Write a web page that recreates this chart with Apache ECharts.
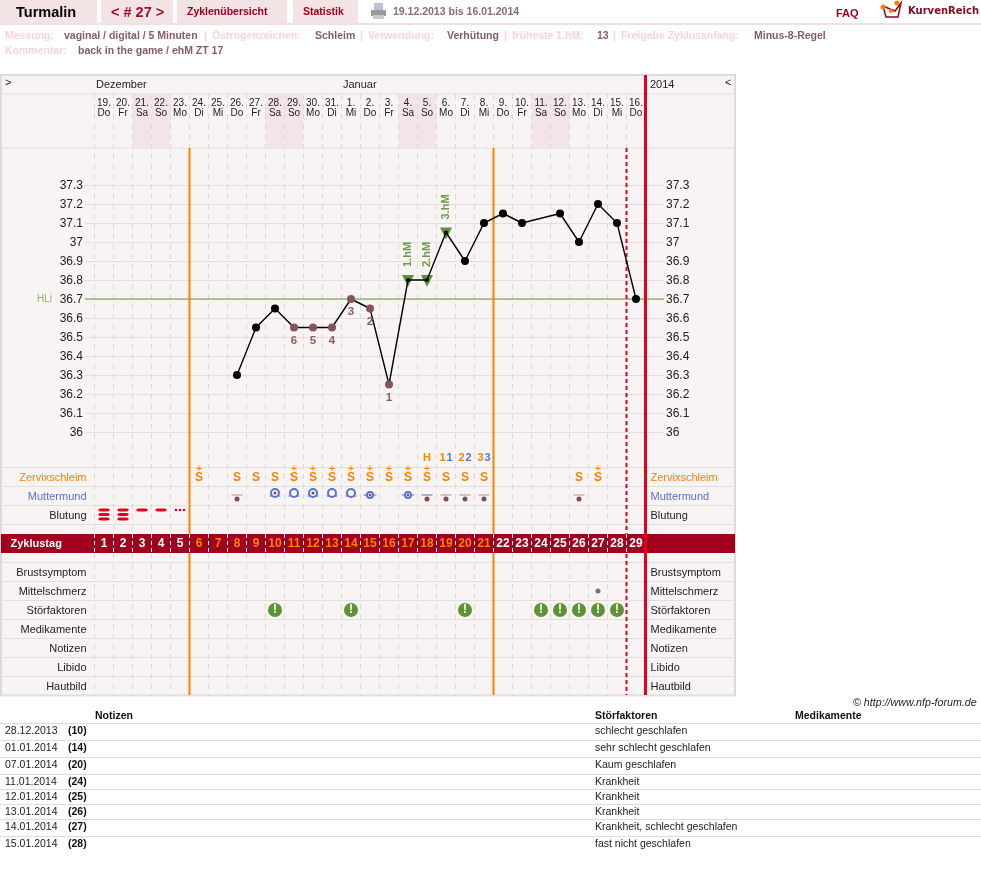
<!DOCTYPE html>
<html><head><meta charset="utf-8"><style>html,body{margin:0;padding:0;background:#fff}#c{width:981px;height:895px}</style>
<script src="https://cdn.jsdelivr.net/npm/echarts@6/dist/echarts.min.js"></script></head>
<body><div id="c"></div><script>
const cycleDays = Array.from('x'.repeat(29)).map((_, i) => String(i + 1));
const dayDates = ['19.','20.','21.','22.','23.','24.','25.','26.','27.','28.','29.','30.','31.','1.','2.','3.','4.','5.','6.','7.','8.','9.','10.','11.','12.','13.','14.','15.','16.'];
const dayNames = ['Do','Fr','Sa','So','Mo','Di','Mi','Do','Fr','Sa','So','Mo','Di','Mi','Do','Fr','Sa','So','Mo','Di','Mi','Do','Fr','Sa','So','Mo','Di','Mi','Do'];
const temperatures = [null,null,null,null,null,null,null,36.3,36.55,36.65,36.55,36.55,36.55,36.7,36.65,36.25,36.8,36.8,37.05,36.9,37.1,37.15,37.1,null,37.15,37,37.2,37.1,36.7];
const lowCount = {11:'6',12:'5',13:'4',14:'3',15:'2',16:'1'};
const riseDays = {17:'1.hM',18:'2.hM',19:'3.hM'};
const coverLine = 36.7;
const rowNames = [' ','Zervixschleim','Muttermund','Blutung','  ','   ','Brustsymptom','Mittelschmerz','Störfaktoren','Medikamente','Notizen','Libido','Hautbild'];
const peakMarks = {18:['H',''],19:['1','1'],20:['2','2'],21:['3','3']};
const mucusS = [8,9,10,19,20,21,26];
const mucusSPlus = [6,11,12,13,14,15,16,17,18,27];
const cervixLowGray = [8,19,20,21,26];
const cervixLowBlue = [18];
const cervixRingLarge = [10,11,12,13,14];
const cervixRingDot = [10,12];
const cervixRingLine = [10,12,11,13,14];
const cervixRingSmall = [15,17];
const bleedHeavy = [1,2];
const bleedMedium = [3,4];
const bleedLight = [5];
const midPain = [27];
const disturbances = [10,14,20,24,25,26,27,28];
const phaseStart = 5, phaseEnd = 21, todayEdge = 28, lastEdge = 29;
const noteDates = ['28.12.2013','01.01.2014','07.01.2014','11.01.2014','12.01.2014','13.01.2014','14.01.2014','15.01.2014'];
const noteDays = ['(10)','(14)','(20)','(24)','(25)','(26)','(27)','(28)'];
const noteTexts = ['schlecht geschlafen','sehr schlecht geschlafen','Kaum geschlafen','Krankheit','Krankheit','Krankheit','Krankheit, schlecht geschlafen','fast nicht geschlafen'];
const noteRowY = [731,748,765,782,797,812,827,844];
const noteLineY = [723,740,757,774,789,804,819,836];

const FONT = '"Liberation Sans", Arial, sans-serif';
const ORANGE = '#f98200', BLUE = '#5a72cc', BROWN = '#84545e', RED = '#e2001a', DARK = '#a0001e', GREEN = '#5f9135', LINE = '#e2dedc', BG = '#f8f4f4';

const grids = [
  {left:1,top:75,width:734,height:620.5,show:true,backgroundColor:BG,borderColor:'#dedad8',borderWidth:2},
  {left:1,top:94,width:734,height:54,show:true,backgroundColor:'transparent',borderColor:LINE,borderWidth:1},
  {left:94.5,top:94,width:551,height:54},
  {left:94.5,top:94,width:551,height:601.5},
  {left:85,top:185,width:579,height:247},
  {left:94.5,top:185,width:551,height:247},
  {left:1,top:467.5,width:734,height:228},
  {left:94.5,top:448.5,width:551,height:247},
  {left:1,top:534,width:734,height:19,z:2,show:true,backgroundColor:DARK,borderWidth:0},
  {left:94.5,top:534,width:551,height:19},
  {left:94.5,top:75,width:551,height:620.5},
  {left:85,top:186,width:579,height:247},
  {left:94.5,top:449.5,width:551,height:247}
];
const hiddenVal = g => ({type:'value',gridIndex:g,show:false,min:0,max:1});
const hiddenCat = g => ({type:'category',gridIndex:g,show:false,data:cycleDays});
const xAxes = [
  hiddenVal(0), hiddenVal(1),
  {type:'category',gridIndex:2,data:dayDates.map((d,i)=>d+'\n'+dayNames[i]),position:'top',z:4,
    axisLine:{show:false},axisTick:{show:false},
    axisLabel:{interval:0,inside:true,margin:4,color:'#222',fontFamily:FONT,fontSize:10,lineHeight:10}},
  {type:'category',gridIndex:3,data:cycleDays,z:1,axisLine:{show:false},axisTick:{show:false},axisLabel:{show:false},
    splitLine:{show:true,interval:0,showMaxLine:false,lineStyle:{color:'#dcd8d6',type:[5,5],width:1}}},
  hiddenVal(4), hiddenCat(5), hiddenVal(6), hiddenCat(7), hiddenVal(8),
  {type:'category',gridIndex:9,data:cycleDays,z:6,axisLine:{show:false},axisTick:{show:false},
    axisLabel:{interval:0,inside:true,margin:3,fontFamily:FONT,fontSize:12,fontWeight:'bold',
      color:(v,i)=>(i>=phaseStart&&i<phaseEnd)?ORANGE:'#fff'},
    splitLine:{show:true,interval:0,showMaxLine:false,lineStyle:{color:'#fff',type:[4,3],width:1}}},
  {type:'value',gridIndex:10,show:false,min:0,max:29},
  hiddenVal(11), hiddenVal(12)
];
const tempAxis = {type:'value',min:36,max:37.3,interval:0.1,axisLine:{show:false},axisTick:{show:false}};
const tempLabel = {color:'#222',fontFamily:FONT,fontSize:12,formatter:v=>String(+v.toFixed(1))};
const rowLabelCol = (v) => v==='Zervixschleim'?ORANGE:(v==='Muttermund'?BLUE:'#222');
const yAxes = [
  hiddenVal(0), hiddenVal(1), hiddenVal(2), hiddenVal(3),
  Object.assign({},tempAxis,{gridIndex:4,z:1,axisLabel:{show:false},splitLine:{show:true,lineStyle:{color:LINE,width:1}}}),
  Object.assign({},tempAxis,{gridIndex:11,axisLabel:Object.assign({margin:2},tempLabel),splitLine:{show:false}}),
  Object.assign({},tempAxis,{gridIndex:11,position:'right',axisLabel:Object.assign({margin:2},tempLabel),splitLine:{show:false}}),
  {type:'value',gridIndex:5,show:false,min:36,max:37.3},
  {type:'value',gridIndex:6,min:0,max:12,interval:1,inverse:true,z:1,axisLine:{show:false},axisTick:{show:false},axisLabel:{show:false},splitLine:{show:true,lineStyle:{color:LINE,width:1}}},
  {type:'category',gridIndex:7,inverse:true,show:false,data:rowNames},
  {type:'category',gridIndex:12,inverse:true,data:rowNames,axisLine:{show:false},axisTick:{show:false},
    axisLabel:{interval:0,margin:8,fontFamily:FONT,fontSize:11,color:rowLabelCol}},
  {type:'category',gridIndex:12,inverse:true,position:'right',data:rowNames,axisLine:{show:false},axisTick:{show:false},
    axisLabel:{interval:0,margin:5,fontFamily:FONT,fontSize:11,color:rowLabelCol}},
  hiddenVal(8),
  {type:'category',gridIndex:9,data:['Zyklustag'],z:6,axisLine:{show:false},axisTick:{show:false},
    axisLabel:{margin:84,align:'left',color:'#fff',fontFamily:FONT,fontSize:11,fontWeight:'bold'}},
  {type:'value',gridIndex:10,show:false,min:75,max:695.5,inverse:true}
];
const XI = {hdr:2,tw:4,t:5,rw:6,r:7,ov:10};
const YI = {hdr:2,tw:4,t:7,rw:8,r:9,ov:14};

const row = n => rowNames.indexOf(n);
const scat = (days, rowName, extra) => Object.assign({
  type:'scatter',xAxisIndex:XI.r,yAxisIndex:YI.r,z:6,silent:true,
  data:days.map(d=>[d-1,row(rowName)])
}, extra);

function rule(x, ys, color, width, type, z){
  return {type:'line',xAxisIndex:XI.ov,yAxisIndex:YI.ov,silent:true,symbol:'none',z:z||3,
    data:ys.map(y=>[x,y]),lineStyle:{color,width,type:type||'solid'}};
}

const series = [
  {type:'bar',xAxisIndex:XI.hdr,yAxisIndex:YI.hdr,barWidth:'100%',z:0,silent:true,
    data:dayNames.map(n=>(n==='Sa'||n==='So')?1:0),itemStyle:{color:'#f3e5e7'}},
  {type:'line',xAxisIndex:XI.tw,yAxisIndex:YI.tw,silent:true,symbol:'none',z:2,showSymbol:false,
    data:[[0,coverLine],[1,coverLine]],lineStyle:{color:'#6b9a3a',width:1}},
  {type:'scatter',xAxisIndex:XI.tw,yAxisIndex:YI.tw,silent:true,symbolSize:0,z:2,data:[[0,coverLine]],
    label:{show:true,position:'left',distance:33,formatter:'HLi',color:'#8fb46c',fontFamily:FONT,fontSize:10}},
  rule(phaseStart,[148,534],ORANGE,2), rule(phaseStart,[553,695],ORANGE,2),
  rule(phaseEnd,[148,525,534],ORANGE,2),
  rule(phaseEnd,[695,562,553],ORANGE,2),
  rule(todayEdge,[148,695],RED,2,[4,3],4),
  rule(lastEdge,[75,695],RED,3,'solid',4),
  {type:'scatter',xAxisIndex:XI.t,yAxisIndex:YI.t,z:5,silent:true,symbol:'triangle',symbolRotate:180,symbolSize:[12,12],symbolOffset:[0,1],
    data:Object.keys(riseDays).map(d=>({value:[d-1,temperatures[d-1]],name:riseDays[d]})),
    itemStyle:{color:GREEN},
    label:{show:true,position:'top',distance:8,rotate:90,align:'left',verticalAlign:'middle',formatter:'{b}',color:'#6d9a4a',fontFamily:FONT,fontSize:11,fontWeight:'bold'}},
  {type:'line',xAxisIndex:XI.t,yAxisIndex:YI.t,z:6,silent:true,connectNulls:true,showAllSymbol:true,symbol:'circle',
    lineStyle:{color:'#000',width:1.4},
    data:temperatures.map((t,i)=>{
      const d=i+1;
      if(t===null) return {value:null};
      const it={value:t,symbolSize:riseDays[d]?4:8,itemStyle:{color:lowCount[d]?BROWN:'#000'}};
      if(lowCount[d]) it.label={show:true,position:'bottom',distance:3,formatter:lowCount[d],color:'#8a5c66',fontFamily:FONT,fontSize:11.5,fontWeight:'bold'};
      return it;
    })},
  scat(Object.keys(peakMarks).map(Number),' ',{symbolSize:0,
    data:Object.keys(peakMarks).map(d=>({value:[d-1,row(' ')],name:peakMarks[d][0]+'|'+peakMarks[d][1]})),
    label:{show:true,position:'inside',fontFamily:FONT,fontWeight:'bold',fontSize:11,
      formatter:p=>{const a=p.name.split('|');return '{o|'+a[0]+'}'+(a[1]?'{g| }{b|'+a[1]+'}':'');},
      rich:{o:{color:ORANGE,fontWeight:'bold',fontSize:11,fontFamily:FONT},b:{color:BLUE,fontWeight:'bold',fontSize:11,fontFamily:FONT},g:{fontSize:3}}}}),
  scat(mucusS.concat(mucusSPlus),'Zervixschleim',{symbolSize:0,label:{show:true,position:'inside',offset:[0,1],formatter:'S',color:ORANGE,fontFamily:FONT,fontWeight:'bold',fontSize:12}}),
  scat(mucusSPlus,'Zervixschleim',{symbolSize:0,label:{show:true,position:'inside',offset:[0,-8],formatter:'+',color:ORANGE,fontFamily:FONT,fontSize:11}}),
  scat(cervixLowGray,'Muttermund',{symbol:'rect',symbolSize:[11,1],symbolOffset:[0,-1],itemStyle:{color:'#a8959a'}}),
  scat(cervixLowBlue,'Muttermund',{symbol:'rect',symbolSize:[11,1],symbolOffset:[0,-1],itemStyle:{color:BLUE}}),
  scat(cervixLowGray.concat(cervixLowBlue),'Muttermund',{symbol:'circle',symbolSize:5,symbolOffset:[0,3],itemStyle:{color:'#7a4f58'}}),
  scat(cervixRingLine,'Muttermund',{symbol:'rect',symbolSize:[11,1],symbolOffset:[0,0],itemStyle:{color:BLUE}}),
  scat(cervixRingLarge,'Muttermund',{symbol:'circle',symbolSize:8,symbolOffset:[0,-3],itemStyle:{color:BG,borderColor:BLUE,borderWidth:2}}),
  scat(cervixRingDot,'Muttermund',{symbol:'circle',symbolSize:3,symbolOffset:[0,-3],itemStyle:{color:'#7a4f58'}}),
  scat(cervixRingSmall,'Muttermund',{symbol:'rect',symbolSize:[13,1],symbolOffset:[0,-1],itemStyle:{color:BLUE}}),
  scat(cervixRingSmall,'Muttermund',{symbol:'circle',symbolSize:6,symbolOffset:[0,-1],itemStyle:{color:BG,borderColor:BLUE,borderWidth:2}}),
  scat(cervixRingSmall,'Muttermund',{symbol:'circle',symbolSize:2.5,symbolOffset:[0,-1],itemStyle:{color:'#7a4f58'}}),
  scat(bleedHeavy,'Blutung',{symbol:'roundRect',symbolSize:[11,3],symbolOffset:[0,-5],itemStyle:{color:RED}}),
  scat(bleedHeavy,'Blutung',{symbol:'roundRect',symbolSize:[11,3],symbolOffset:[0,-0.5],itemStyle:{color:RED}}),
  scat(bleedHeavy,'Blutung',{symbol:'roundRect',symbolSize:[11,3],symbolOffset:[0,4],itemStyle:{color:RED}}),
  scat(bleedMedium,'Blutung',{symbol:'roundRect',symbolSize:[11,3],symbolOffset:[0,-5],itemStyle:{color:RED}}),
  scat(bleedLight,'Blutung',{symbol:'circle',symbolSize:2.5,symbolOffset:[-4,-5],itemStyle:{color:RED}}),
  scat(bleedLight,'Blutung',{symbol:'circle',symbolSize:2.5,symbolOffset:[0,-5],itemStyle:{color:RED}}),
  scat(bleedLight,'Blutung',{symbol:'circle',symbolSize:2.5,symbolOffset:[4,-5],itemStyle:{color:RED}}),
  scat(midPain,'Mittelschmerz',{symbol:'circle',symbolSize:5,itemStyle:{color:'#777'}}),
  scat(disturbances,'Störfaktoren',{symbol:'circle',symbolSize:14,itemStyle:{color:GREEN},
    label:{show:true,position:'inside',formatter:'!',color:'#fff',fontFamily:FONT,fontWeight:'bold',fontSize:12}})
];
series.forEach(s=>{s.animation=false; if(s.type==='scatter') s.itemStyle=Object.assign({opacity:1},s.itemStyle);});

const g = [];
const rect = (x,y,w,h,fill,z)=>g.push({type:'rect',shape:{x,y,width:w,height:h},style:{fill},z:z||20,silent:true});
const text = (x,y,t,fill,size,weight,extra)=>g.push({type:'text',x,y,z:21,silent:true,
  style:Object.assign({text:t,fill,font:(weight||'normal')+' '+size+'px '+FONT,verticalAlign:'middle'},extra||{})});
rect(0,0,97,23,'#f3e3e5');rect(101,0,72,23,'#f3e3e5');rect(177,0,110,23,'#f3e3e5');rect(293,0,65,23,'#f3e3e5');
rect(0,23,981,2,'#f3dfe2');
text(16,13,'Turmalin','#000',14.5,'bold');
text(111,13,'< # 27 >','#a0102a',14.5,'bold');
text(187,12,'Zyklenübersicht',DARK,10.5,'bold');
text(303,12,'Statistik',DARK,10.5,'bold');
rect(374,3,9,7,'#b9c4d0');rect(371,10,15,6,'#9a9a9a');rect(373,15,11,4,'#c8c8c8');
text(393,12,'19.12.2013 bis 16.01.2014','#8c6b72',10.5,'bold');
text(836,14,'FAQ',DARK,11,'bold');
g.push({type:'polyline',z:20,silent:true,shape:{points:[[883,6],[886,17],[898,17],[901,3],[895,11],[890,9],[883,6]]},style:{fill:'none',stroke:DARK,lineWidth:1.5}});
g.push({type:'circle',z:21,silent:true,shape:{cx:883,cy:7,r:2.5},style:{fill:ORANGE}});
g.push({type:'circle',z:21,silent:true,shape:{cx:897,cy:3,r:2.5},style:{fill:ORANGE}});
g.push({type:'circle',z:21,silent:true,shape:{cx:891,cy:11,r:2},style:{fill:ORANGE}});
g.push({type:'text',x:908,y:11,z:21,silent:true,style:{text:'KurvenReich',fill:'#8a0a22',font:'bold 10px "DejaVu Sans"',verticalAlign:'middle'}});
const PINK='#f7d4d8', VAL='#875c66';
[[5,'Messung:',PINK],[64,'vaginal / digital / 5 Minuten',VAL],[204,'|',PINK],[212,'Östrogenzeichen:',PINK],[315,'Schleim',VAL],[360,'|',PINK],[368,'Verwendung:',PINK],[447,'Verhütung',VAL],[504,'|',PINK],[512,'früheste 1.hM:',PINK],[597,'13',VAL],[613,'|',PINK],[621,'Freigabe Zyklusanfang:',PINK],[754,'Minus-8-Regel',VAL]]
 .forEach(a=>text(a[0],36,a[1],a[2],10.5,'bold'));
text(5,51,'Kommentar:',PINK,10.5,'bold');
text(78,51,'back in the game / ehM ZT 17',VAL,10.5,'bold');
text(5,83,'>','#222',11);text(725,83,'<','#222',11);
text(96,85,'Dezember','#222',11);text(343,85,'Januar','#222',11);text(650,85,'2014','#222',11);
text(853,703,'© http://www.nfp-forum.de','#222',10.7,'normal',{font:'italic 10.7px '+FONT});
text(95,716,'Notizen','#111',10.5,'bold');text(595,716,'Störfaktoren','#111',10.5,'bold');text(795,716,'Medikamente','#111',10.5,'bold');
noteLineY.forEach(y=>rect(0,y,981,1,'#dcdcdc',20));
noteDates.forEach((d,i)=>{
  text(5,noteRowY[i],d,'#222',10.5);
  text(68,noteRowY[i],noteDays[i],'#111',10.5,'bold');
  text(595,noteRowY[i],noteTexts[i],'#222',10.5);
});

const chart = echarts.init(document.getElementById('c'),null,{renderer:'canvas'});
chart.setOption({animation:false,tooltip:{show:false},grid:grids,xAxis:xAxes,yAxis:yAxes,series,graphic:{elements:g}});
</script></body></html>
